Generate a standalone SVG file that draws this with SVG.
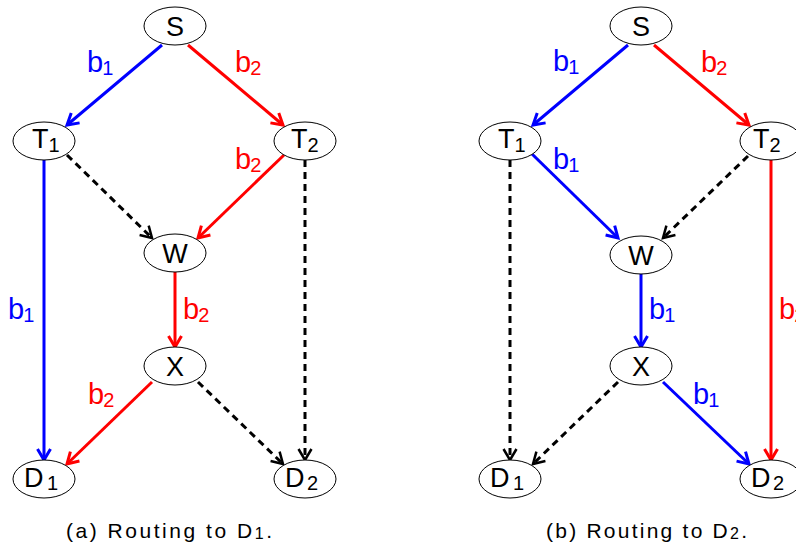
<svg xmlns="http://www.w3.org/2000/svg" width="796" height="546" viewBox="0 0 796 546">
<style>
  .node ellipse { fill: #fff; stroke: #000; stroke-width: 1; }
  .node text { font-family: "Liberation Sans", Arial, sans-serif; font-size: 27px; fill: #000; }
  .sub { font-size: 20px; }
  .lbl { font-family: "Liberation Sans", Arial, sans-serif; font-size: 29px; }
  .lbl .sub { font-size: 20px; }
  .blue { stroke: #0000ff; fill: none; stroke-width: 3; }
  .red { stroke: #ff0000; fill: none; stroke-width: 3; }
  .dash { stroke: #000; fill: none; stroke-width: 3; stroke-dasharray: 7 5; }
  .tb { fill: #0000ff; }
  .tr { fill: #ff0000; }
  .cap { font-family: "Liberation Sans", Arial, sans-serif; font-size: 21px; fill: #000; }
</style>
<defs>
  <marker id="ab" markerUnits="userSpaceOnUse" markerWidth="20" markerHeight="20" viewBox="-14 -10 16 20" refX="0" refY="0" orient="auto">
    <path d="M-11,-6.5 L0,0 L-11,6.5" fill="none" stroke="#0000ff" stroke-width="3"/>
  </marker>
  <marker id="ar" markerUnits="userSpaceOnUse" markerWidth="20" markerHeight="20" viewBox="-14 -10 16 20" refX="0" refY="0" orient="auto">
    <path d="M-11,-6.5 L0,0 L-11,6.5" fill="none" stroke="#ff0000" stroke-width="3"/>
  </marker>
  <marker id="ak" markerUnits="userSpaceOnUse" markerWidth="20" markerHeight="20" viewBox="-14 -10 16 20" refX="0" refY="0" orient="auto">
    <path d="M-11,-6.5 L0,0 L-11,6.5" fill="none" stroke="#000" stroke-width="2.5"/>
  </marker>
</defs>

<g id="connectors">
  <!-- panel a -->
  <line class="blue" x1="162" y1="45" x2="67" y2="125" marker-end="url(#ab)"/>
  <line class="red" x1="188" y1="45" x2="283" y2="125" marker-end="url(#ar)"/>
  <line class="blue" x1="44" y1="160" x2="44" y2="460" marker-end="url(#ab)"/>
  <line class="dash" x1="67" y1="155" x2="152" y2="238" marker-end="url(#ak)"/>
  <line class="red" x1="284" y1="155" x2="198" y2="238" marker-end="url(#ar)"/>
  <line class="dash" x1="305" y1="160" x2="305" y2="460" marker-end="url(#ak)"/>
  <line class="red" x1="175" y1="272" x2="175" y2="347" marker-end="url(#ar)"/>
  <line class="red" x1="152" y1="382" x2="67" y2="464" marker-end="url(#ar)"/>
  <line class="dash" x1="198" y1="382" x2="283" y2="464" marker-end="url(#ak)"/>
  <!-- panel b -->
  <line class="blue" x1="628" y1="45" x2="533" y2="125" marker-end="url(#ab)"/>
  <line class="red" x1="654" y1="45" x2="749" y2="125" marker-end="url(#ar)"/>
  <line class="blue" x1="532" y1="154" x2="618" y2="238" marker-end="url(#ab)"/>
  <line class="dash" x1="748" y1="156" x2="663" y2="238" marker-end="url(#ak)"/>
  <line class="dash" x1="510" y1="160" x2="510" y2="460" marker-end="url(#ak)"/>
  <line class="red" x1="771" y1="160" x2="771" y2="460" marker-end="url(#ar)"/>
  <line class="blue" x1="641" y1="272" x2="641" y2="347" marker-end="url(#ab)"/>
  <line class="dash" x1="618" y1="382" x2="533" y2="464" marker-end="url(#ak)"/>
  <line class="blue" x1="663" y1="382" x2="749" y2="464" marker-end="url(#ab)"/>
</g>

<g id="edge-labels">
  <text class="lbl tb" x="87" y="72">b<tspan class="sub" dy="3" dx="-1">1</tspan></text>
  <text class="lbl tr" x="235" y="72">b<tspan class="sub" dy="3" dx="-1">2</tspan></text>
  <text class="lbl tr" x="235" y="169">b<tspan class="sub" dy="3" dx="-1">2</tspan></text>
  <text class="lbl tb" x="8" y="319">b<tspan class="sub" dy="3" dx="-1">1</tspan></text>
  <text class="lbl tr" x="183" y="319">b<tspan class="sub" dy="3" dx="-1">2</tspan></text>
  <text class="lbl tr" x="88" y="404">b<tspan class="sub" dy="3" dx="-1">2</tspan></text>

  <text class="lbl tb" x="553" y="71">b<tspan class="sub" dy="3" dx="-1">1</tspan></text>
  <text class="lbl tr" x="701" y="72">b<tspan class="sub" dy="3" dx="-1">2</tspan></text>
  <text class="lbl tb" x="553" y="169">b<tspan class="sub" dy="3" dx="-1">1</tspan></text>
  <text class="lbl tb" x="649" y="319">b<tspan class="sub" dy="3" dx="-1">1</tspan></text>
  <text class="lbl tr" x="779" y="319">b<tspan class="sub" dy="3" dx="-1">2</tspan></text>
  <text class="lbl tb" x="693" y="404">b<tspan class="sub" dy="3" dx="-1">1</tspan></text>
</g>

<g id="a-S" class="node"><ellipse cx="175" cy="26" rx="31" ry="19"/><text x="175" y="36" text-anchor="middle">S</text></g>
<g id="a-T1" class="node"><ellipse cx="44" cy="141" rx="31" ry="19"/><text x="32" y="148">T<tspan class="sub" dy="4">1</tspan></text></g>
<g id="a-T2" class="node"><ellipse cx="305" cy="141" rx="31" ry="19"/><text x="291" y="148">T<tspan class="sub" dy="4">2</tspan></text></g>
<g id="a-W" class="node"><ellipse cx="175" cy="253" rx="31" ry="19"/><text x="175" y="263" text-anchor="middle">W</text></g>
<g id="a-X" class="node"><ellipse cx="175" cy="366" rx="31" ry="19"/><text x="175" y="376" text-anchor="middle">X</text></g>
<g id="a-D1" class="node"><ellipse cx="44" cy="479" rx="31" ry="19"/><text x="24" y="487">D<tspan class="sub" x="47" dy="3">1</tspan></text></g>
<g id="a-D2" class="node"><ellipse cx="305" cy="479" rx="31" ry="19"/><text x="285" y="487">D<tspan class="sub" x="307" dy="3">2</tspan></text></g>

<g id="b-S" class="node"><ellipse cx="641" cy="26" rx="31" ry="19"/><text x="641" y="36" text-anchor="middle">S</text></g>
<g id="b-T1" class="node"><ellipse cx="510" cy="141" rx="31" ry="19"/><text x="498" y="148">T<tspan class="sub" dy="4">1</tspan></text></g>
<g id="b-T2" class="node"><ellipse cx="771" cy="141" rx="31" ry="19"/><text x="753" y="148">T<tspan class="sub" dy="4">2</tspan></text></g>
<g id="b-W" class="node"><ellipse cx="641" cy="255" rx="31" ry="19"/><text x="641" y="265" text-anchor="middle">W</text></g>
<g id="b-X" class="node"><ellipse cx="641" cy="366" rx="31" ry="19"/><text x="641" y="376" text-anchor="middle">X</text></g>
<g id="b-D1" class="node"><ellipse cx="510" cy="479" rx="31" ry="19"/><text x="490" y="487">D<tspan class="sub" x="513" dy="3">1</tspan></text></g>
<g id="b-D2" class="node"><ellipse cx="771" cy="479" rx="31" ry="19"/><text x="751" y="487">D<tspan class="sub" x="773" dy="3">2</tspan></text></g>

<g id="captions">
  <text class="cap" x="66" y="538" textLength="206" lengthAdjust="spacing">(a) Routing to D<tspan font-size="16" dy="1">1</tspan><tspan dy="-1">.</tspan></text>
  <text class="cap" x="546" y="538" textLength="201" lengthAdjust="spacing">(b) Routing to D<tspan font-size="16" dy="1">2</tspan><tspan dy="-1">.</tspan></text>
</g>
</svg>
